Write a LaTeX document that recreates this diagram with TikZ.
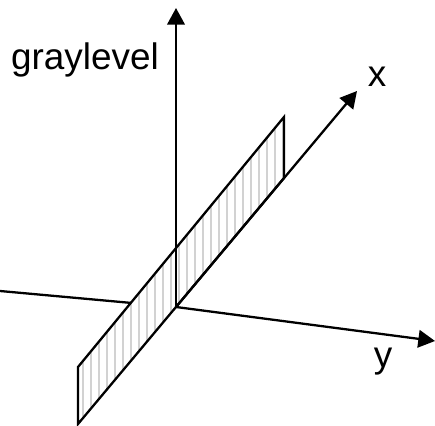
\documentclass[tikz,border=0pt]{standalone}
\usepackage{fontspec}
\setmainfont{Liberation Sans}
\usetikzlibrary{arrows.meta}

\begin{document}
\begin{tikzpicture}[x=0.02cm,y=-0.02cm,>={Triangle[length=9.5pt,width=10pt]},
    axis/.style={line width=1.3pt,line join=miter},
    lbl/.style={font=\fontsize{21}{25}\selectfont,inner sep=0pt}]
  \useasboundingbox (0,0) rectangle (435,425);
  % axes end points
  \coordinate (O) at (176,307);
  \coordinate (gtip) at (176,8);
  \coordinate (xtip) at (357,91);
  \coordinate (ytip) at (435,341);
  \coordinate (yleft) at (0,291);
  % the plane
  \coordinate (p1) at (78,424);
  \coordinate (p2) at (284,178);
  \coordinate (p3) at (284,117);
  \coordinate (p4) at (78,367);
  \draw[axis,->] (yleft) -- (O) -- (ytip);
  \fill[white] (p1) -- (p2) -- (p3) -- (p4) -- cycle;
  \begin{scope}
    \clip (p1) -- (p2) -- (p3) -- (p4) -- cycle;
    \foreach \hx in {83,91,...,283}
      \draw[gray!35,line width=0.7pt] (\hx,100) -- (\hx,430);
  \end{scope}
  \draw[axis] (p1) -- (p2) -- (p3) -- (p4) -- cycle;
  \draw[axis,->] (O) -- (gtip);
  \draw[axis,->] (O) -- (xtip);
  % labels
  \node[lbl,anchor=base] (glabel) at (85,70) {graylevel};
  \node[lbl,anchor=base] (xlabel) at (377,87) {x};
  \node[lbl,anchor=base] (ylabel) at (383,367) {y};
\end{tikzpicture}
\end{document}
